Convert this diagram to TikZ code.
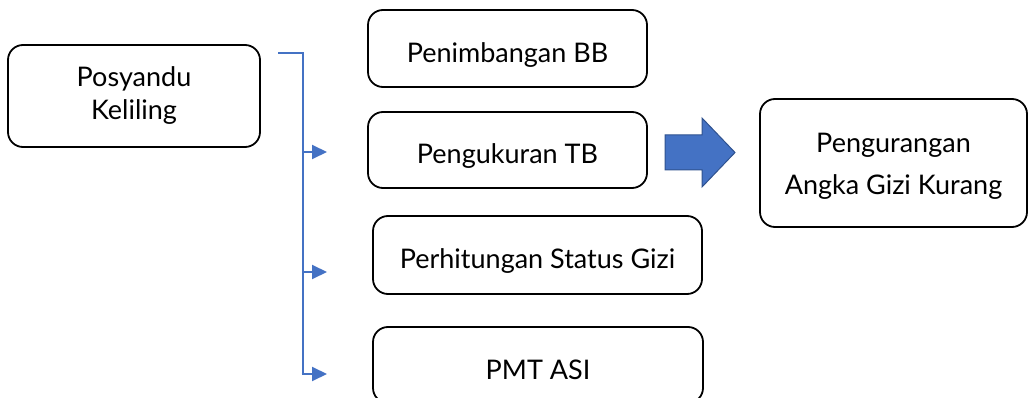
\documentclass[tikz,border=0pt]{standalone}
\usepackage{fontspec}
\setmainfont{Lato}
\usetikzlibrary{arrows.meta}
\definecolor{garis}{HTML}{4472C4}
\definecolor{garistepi}{HTML}{2F528F}
\begin{document}
\begin{tikzpicture}[x=1pt,y=-1pt,
  kotak/.style={draw=black,line width=1.8pt,rounded corners=15pt,align=center,
    inner sep=0pt,font=\fontsize{27}{33}\selectfont,text height=28pt,text depth=0pt},
  cabang/.style={draw=garis,line width=2pt},
  panah/.style={cabang,-{Triangle[length=15pt,width=14pt]}},
  panahbesar/.style={fill=garis,draw=garistepi,line width=1pt}]
\useasboundingbox (0,0) rectangle (1028,398);
\node[kotak,minimum width=252pt,minimum height=102pt,text height=48pt] (pk) at (134,96) {Posyandu\\Keliling};
\node[kotak,minimum width=279pt,minimum height=77pt] (pbb) at (507.5,48.5) {Penimbangan BB};
\node[kotak,minimum width=279pt,minimum height=76pt] (ptb) at (507.5,150) {Pengukuran TB};
\node[kotak,minimum width=329pt,minimum height=78pt] (psg) at (537.5,255) {Perhitungan Status Gizi};
\node[kotak,minimum width=330pt,minimum height=76pt] (pmt) at (538,365) {PMT ASI};
\node[kotak,minimum width=267pt,minimum height=128pt,text height=64pt] (pagk) at (893.5,163) {Pengurangan\\[9pt]Angka Gizi Kurang};
\coordinate (b0) at (278,53);
\coordinate (b1) at (302.5,53);
\coordinate (a1) at (327,152);
\coordinate (a2) at (327,272);
\coordinate (a3) at (327,374);
\draw[cabang] (b0) -- (b1) -- (b1 |- a3);
\draw[panah] (b1 |- a1) -- (a1);
\draw[panah] (b1 |- a2) -- (a2);
\draw[panah] ([xshift=-1pt]b1 |- a3) -- (a3);
\filldraw[panahbesar] (665,135) -- (702,135) -- (702,118) -- (735,152.5) -- (702,187) -- (702,170) -- (665,170) -- cycle;
\end{tikzpicture}
\end{document}
